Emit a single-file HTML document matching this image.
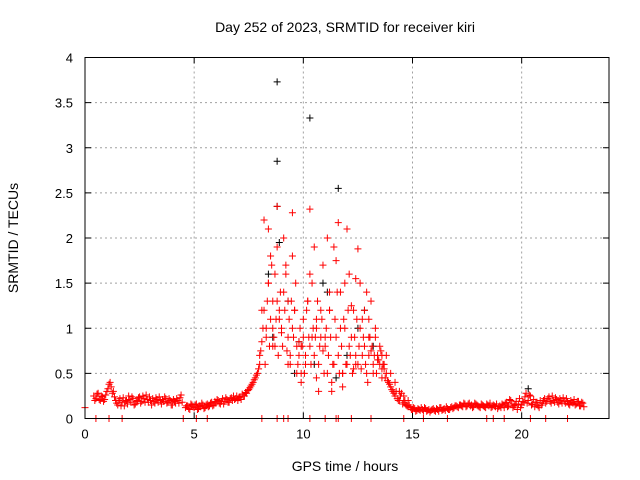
<!DOCTYPE html>
<html><head><meta charset="utf-8"><style>
body{margin:0;background:#fff}
svg{display:block;font-family:"Liberation Sans",sans-serif}
</style></head><body>
<svg id="chart" width="640" height="480" viewBox="0 0 640 480" xmlns="http://www.w3.org/2000/svg">
<rect width="640" height="480" fill="#fff"/>
<text x="345" y="32" font-size="14" text-anchor="middle">Day 252 of 2023, SRMTID for receiver kiri</text>
<text x="345" y="471" font-size="14" text-anchor="middle">GPS time / hours</text>
<text x="0" y="0" font-size="14" text-anchor="middle" transform="translate(18,238) rotate(-90)">SRMTID / TECUs</text>
<g id="grid"></g>
<g id="ticks"></g>
<g id="marks"></g>
<rect x="85" y="57.5" width="524" height="361" fill="none" stroke="#000" stroke-width="1"/>
</svg>
<script>
const xTicks=[0,5,10,15,20];
const yTicks=[0,0.5,1,1.5,2,2.5,3,3.5,4];
const yTickLabels=["0","0.5","1","1.5","2","2.5","3","3.5","4"];
const baseStep=0.1;
const baseA=[0.12,null,null,null,0.25,0.22,0.28,0.20,0.24,0.21,0.30,0.38,0.35,0.30,0.20,0.15,0.22,0.18,0.14,0.20,
0.25,0.18,0.22,0.16,0.20,0.24,0.19,0.22,0.26,0.18,0.20,0.22,0.17,0.21,0.24,0.16,0.19,0.22,0.18,0.20,
0.15,0.19,0.22,0.17,0.26,null,0.12,0.14,0.10,0.15,0.12,0.16,0.11,0.13,0.15,0.12,0.16,0.14,0.18,0.15,
0.17,0.20,0.16,0.22,0.19,0.21,0.18,0.23,0.25,0.22,0.20,0.24,0.27,0.25,0.28,0.32,0.36,0.40,0.45,0.50,
0.60,0.85,1.2,0.9,1.5,1.1,1.3,0.8,1.9,1.2,1.0,1.4,1.6,0.9,0.6,1.8,1.2,0.8,0.7,0.5,
0.9,0.6,1.3,0.8,1.5,0.7,1.1,0.6,0.9,1.7,0.8,0.5,1.2,0.4,1.9,0.9,0.7,1.4,0.5,1.0,
0.6,1.6,0.9,1.2,0.7,0.6,1.5,1.1,0.8,0.5,0.7,1.3,0.6,0.9,0.7,0.6,0.7,0.55,0.5,0.4,
0.35,0.30,0.25,0.22,0.20,0.28,0.18,0.15,0.13,0.12,0.10,0.11,0.09,0.10,0.12,0.08,0.11,0.09,0.07,0.10,
0.09,0.11,0.08,0.12,0.10,0.09,0.11,0.10,0.13,0.12,0.14,0.12,0.15,0.13,0.16,0.14,0.17,0.15,0.13,0.16,
0.14,0.12,0.15,0.13,0.16,0.14,0.12,0.15,0.13,0.11,0.14,0.16,0.12,0.18,0.14,0.20,0.12,0.15,0.10,0.22,
0.15,0.18,0.28,0.20,0.25,0.16,0.13,0.18,0.12,0.15,0.20,0.17,0.22,0.19,0.25,0.18,0.21,0.16,0.20,0.23,
0.17,0.19,0.15,0.18,0.21,0.16,0.19,0.14,0.17];
const baseB=[null,null,null,null,0.20,0.27,0.21,0.25,0.19,0.26,0.33,0.40,0.28,0.24,0.17,0.20,0.14,0.23,0.19,0.16,
0.21,0.24,0.15,0.19,0.23,0.17,0.25,0.18,0.21,0.24,0.15,0.19,0.23,0.18,0.20,0.21,0.24,0.17,0.22,0.15,
0.21,0.17,0.20,0.23,0.18,null,0.14,0.11,0.16,0.13,0.15,0.10,0.14,0.17,0.11,0.15,0.13,0.17,0.14,0.19,
0.21,0.17,0.19,0.16,0.23,0.18,0.22,0.20,0.21,0.25,0.23,0.21,0.25,0.29,0.31,0.34,0.38,0.43,0.48,0.55,
0.75,1.0,0.6,1.3,0.8,1.7,0.9,1.1,0.7,1.4,0.8,1.2,0.75,1.1,1.3,0.9,1.5,0.6,1.0,0.8,
0.5,1.2,0.9,0.6,1.0,0.9,1.3,0.8,1.1,0.5,1.0,0.7,0.9,0.6,1.1,1.4,0.5,0.8,1.1,0.6,
1.2,0.7,0.5,0.9,1.1,0.8,0.55,0.9,0.6,0.4,0.9,0.8,0.7,0.5,0.65,0.75,0.6,0.45,0.42,0.38,
0.32,0.28,0.3,0.2,0.25,0.16,0.2,0.14,0.15,0.10,0.12,0.08,0.11,0.09,0.10,0.12,0.08,0.10,0.09,0.11,
0.08,0.10,0.12,0.09,0.11,0.13,0.10,0.12,0.11,0.14,0.13,0.15,0.14,0.17,0.13,0.16,0.14,0.12,0.17,0.15,
0.13,0.16,0.14,0.12,0.15,0.17,0.13,0.14,0.16,0.13,0.12,0.15,0.17,0.13,0.21,0.16,0.14,0.19,0.16,0.12,
0.19,0.24,0.17,0.26,0.15,0.21,0.18,0.14,0.20,0.17,0.22,0.19,0.24,0.17,0.20,0.23,0.18,0.22,0.17,0.19,
0.22,0.16,0.20,0.17,0.15,0.19,0.14,0.18,0.13];
const stormTimes=[8.0,8.1,8.2,8.3,8.4,8.4,8.5,8.6,8.7,8.8,8.8,8.9,9.0,9.1,9.2,9.3,9.4,9.5,9.5,9.6,9.7,9.8,9.9,10.0,10.1,10.2,10.3,10.3,10.4,10.5,10.6,10.7,10.8,10.9,11.0,11.1,11.2,11.3,11.4,11.5,11.6,11.7,11.8,11.9,12.0,12.1,12.2,12.3,12.4,12.5,12.6,12.7,12.8,12.9,13.0,13.1,13.2,13.3,13.4,13.5,13.6,13.7,13.8,14.0,14.2,14.4,14.6,14.8,8.6,9.3,9.9,10.6,11.2,11.8,12.4,13.0,13.6];
const stormVals=[0.7,1.2,2.2,1.0,2.1,1.5,1.8,0.8,1.6,2.35,1.3,1.1,0.95,2.0,1.7,1.3,0.7,2.28,1.0,1.2,0.5,0.85,0.4,1.1,0.7,1.3,2.32,1.6,0.9,1.9,1.0,0.3,1.2,0.75,0.9,2.0,1.4,0.3,0.6,1.75,2.17,1.0,0.5,1.5,2.1,0.8,1.25,0.55,1.55,1.88,1.0,0.7,1.2,1.4,0.9,0.75,0.5,1.0,0.65,0.8,0.55,0.6,0.7,0.5,0.4,0.3,0.25,0.2,1.0,0.6,0.8,0.45,1.2,0.35,0.6,1.1,0.45];
const blackTimes=[8.8,10.3,8.8,11.6,8.8,8.9,8.4,10.9,9.3,11.1,12.5,8.6,9.8,10.5,12.0,13.2,20.3,9.6,11.5,12.8];
const blackVals=[3.73,3.33,2.85,2.55,2.35,1.95,1.6,1.5,1.3,1.4,1.0,0.9,0.85,0.6,0.7,0.8,0.33,0.5,0.45,1.2];
const zeroTimes=[0.5,1.1,1.7,4.5,5.1,5.6,8.1,8.8,9.1,9.3,10.3,11.0,11.5,11.6,12.2,13.1,14.6,15.5,16.6,18.4,18.7,19.2,20.4,21.1,22.1];

const X0=85,X1=609,Y0=418.5,Y1=57.5,XMAX=24,YMAX=4;
const xs=v=>X0+(X1-X0)*v/XMAX;
const ys=v=>Y0-(Y0-Y1)*v/YMAX;
const NS="http://www.w3.org/2000/svg";
const grid=document.getElementById('grid'),ticks=document.getElementById('ticks'),marks=document.getElementById('marks');
function mk(tag,attrs,parent){const e=document.createElementNS(NS,tag);for(const k in attrs)e.setAttribute(k,attrs[k]);parent.appendChild(e);return e;}
xTicks.forEach(t=>{
  const x=xs(t);
  if(t>0){const g=mk('line',{x1:x,y1:Y0,x2:x,y2:Y1,stroke:'#a0a0a0','stroke-dasharray':'2,3','stroke-width':1},grid);
  
  }
  const a=mk('line',{x1:x,y1:Y0,x2:x,y2:Y0-6,stroke:'#000'},ticks);
  
  
  const b=mk('line',{x1:x,y1:Y1,x2:x,y2:Y1+6,stroke:'#000'},ticks);
  
  
  const l=mk('text',{x:x,y:Y0+20,'font-size':13,'text-anchor':'middle'},ticks);l.textContent=String(t);
  
  
});
yTicks.forEach((t,i)=>{
  const y=ys(t);
  if(t>0&&t<YMAX){const g=mk('line',{x1:X0,y1:y,x2:X1,y2:y,stroke:'#a0a0a0','stroke-dasharray':'2,3','stroke-width':1},grid);
  
  }
  const a=mk('line',{x1:X0,y1:y,x2:X0+6,y2:y,stroke:'#000'},ticks);
  
  
  const b=mk('line',{x1:X1,y1:y,x2:X1-6,y2:y,stroke:'#000'},ticks);
  
  
  const l=mk('text',{x:X0-12,y:y+5,'font-size':13,'text-anchor':'end'},ticks);l.textContent=yTickLabels[i];
  
  
});
function plus(t,v,color,name){
  const x=xs(t),y=ys(v);
  const p=mk('path',{d:`M${x-3.5},${y}h7M${x},${y-3.5}v7`,stroke:color,'stroke-width':1,fill:'none'},marks);
  
  
}
blackTimes.forEach((t,i)=>plus(t,blackVals[i],'#000','point-black'));
baseA.forEach((v,i)=>{if(v!==null)plus(i*baseStep,v,'#ff0000','point-red');});
baseB.forEach((v,i)=>{if(v!==null)plus(i*baseStep+0.05,v,'#ff0000','point-red');});
stormTimes.forEach((t,i)=>plus(t,stormVals[i],'#ff0000','point-red-storm'));
zeroTimes.forEach(t=>plus(t,0,'#ff0000','point-red-zero'));
</script>
</body></html>
